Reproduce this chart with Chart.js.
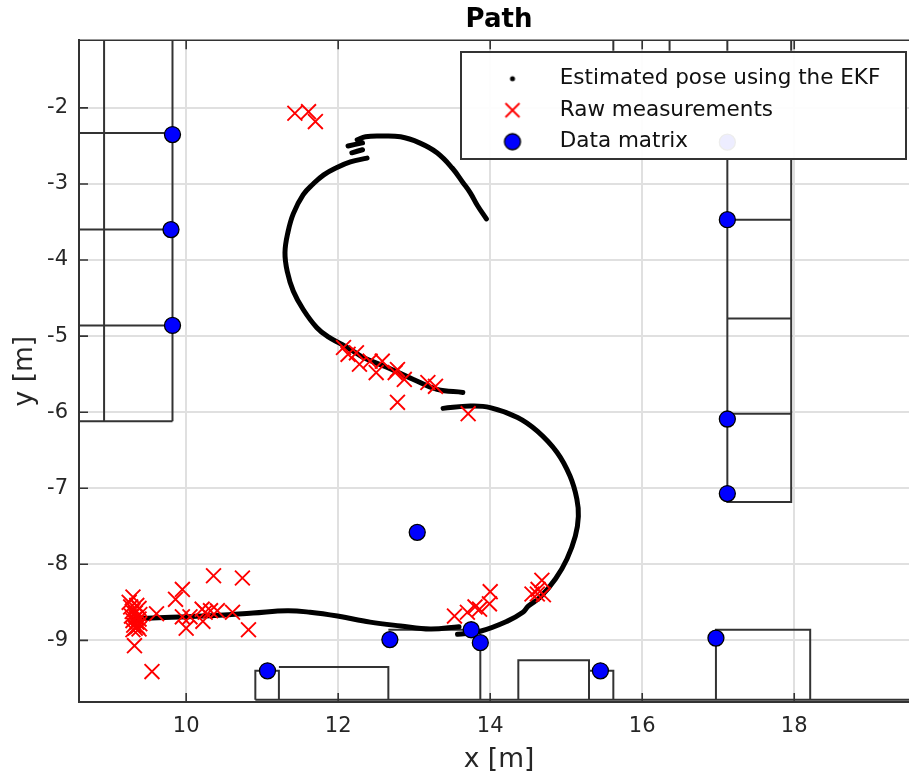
<!DOCTYPE html>
<html><head><meta charset="utf-8">
<style>html,body{margin:0;padding:0;background:#fff}canvas{display:block}</style>
<script src="https://cdn.jsdelivr.net/npm/chart.js"></script>
</head><body><canvas id="c" width="909" height="778"></canvas>
<script>
const xTicks = [10,12,14,16,18];
const yTicks = [-9,-8,-7,-6,-5,-4,-3,-2];
const pathX = [13.95,13.83,13.74,13.64,13.50,13.30,13.07,12.82,12.55,12.36,12.25,null,12.13,12.32,null,12.18,12.32,null,
 12.38,12.16,11.97,11.81,11.67,11.54,11.41,11.34,11.30,11.33,11.41,11.54,11.72,11.87,12.05,12.20,12.33,12.64,12.99,13.30,13.64,null,
 13.38,13.74,14.00,14.36,14.62,14.88,15.05,15.14,15.16,15.12,15.01,14.86,14.66,14.50,14.43,14.22,13.87,13.57,null,
 13.59,13.21,12.82,12.42,11.99,11.63,11.33,10.88,10.22,9.49,9.32];
const pathY = [-3.46,-3.28,-3.12,-2.98,-2.79,-2.59,-2.46,-2.38,-2.37,-2.38,-2.42,null,-2.50,-2.46,null,-2.59,-2.55,null,
 -2.66,-2.71,-2.79,-2.88,-3.00,-3.14,-3.39,-3.63,-3.90,-4.15,-4.41,-4.65,-4.89,-5.01,-5.11,-5.20,-5.28,-5.41,-5.57,-5.70,-5.74,null,
 -5.95,-5.92,-5.94,-6.07,-6.25,-6.53,-6.84,-7.14,-7.37,-7.63,-7.93,-8.19,-8.43,-8.55,-8.63,-8.75,-8.88,-8.92,null,
 -8.82,-8.85,-8.81,-8.76,-8.68,-8.63,-8.61,-8.64,-8.68,-8.71,-8.72];
const rawX = [11.43,11.61,11.70,12.07,12.13,12.24,12.28,12.42,12.50,12.58,12.78,12.75,12.87,13.18,13.28,12.78,13.71,
 10.36,10.74,9.95,9.86,9.30,9.25,9.61,9.95,10.00,10.05,10.21,10.25,10.22,10.32,10.41,10.61,10.82,9.32,9.55,
 9.27,9.35,9.38,9.29,9.33,9.39,9.28,9.34,9.38,9.30,9.35,9.39,9.31,9.36,9.33,9.38,9.30,
 13.53,13.70,13.80,13.86,13.99,14.00,14.55,14.62,14.70,14.68,14.63];
const rawY = [-2.07,-2.05,-2.18,-5.15,-5.24,-5.22,-5.37,-5.33,-5.48,-5.33,-5.44,-5.48,-5.57,-5.61,-5.66,-5.87,-6.02,
 -8.15,-8.18,-8.33,-8.46,-8.43,-8.50,-8.65,-8.69,-8.84,-8.69,-8.59,-8.63,-8.75,-8.61,-8.61,-8.63,-8.86,-9.07,-9.41,
 -8.56,-8.54,-8.58,-8.62,-8.64,-8.66,-8.68,-8.70,-8.72,-8.74,-8.76,-8.78,-8.80,-8.82,-8.84,-8.85,-8.86,
 -8.68,-8.63,-8.56,-8.59,-8.52,-8.36,-8.39,-8.39,-8.40,-8.21,-8.33];
const matrixX = [9.82,9.80,9.82,17.12,17.12,17.12,17.12,13.04,11.07,12.68,13.75,13.87,15.45,16.97];
const matrixY = [-2.35,-3.60,-4.86,-2.45,-3.47,-6.09,-7.07,-7.58,-9.40,-8.99,-8.86,-9.03,-9.40,-8.97];
const wallX = [8.92,8.92,null,9.82,9.82,null,8.59,9.82,null,8.59,9.82,null,8.59,9.82,null,8.59,9.82,null,
 15.62,15.62,null,16.36,16.36,null,17.12,17.12,null,17.96,17.96,null,17.12,17.12,17.96,17.96,null,17.12,17.96,null,17.12,17.96,null,17.12,17.96,null,
 10.91,19.51,null,10.91,10.91,11.22,11.22,null,11.22,12.66,12.66,null,12.66,13.75,null,13.87,13.87,null,
 14.37,14.37,15.30,15.30,null,15.30,15.62,15.62,null,16.97,16.97,18.21,18.21];
const wallY = [-1.11,-6.12,null,-1.11,-6.12,null,-6.12,-6.12,null,-2.33,-2.33,null,-3.60,-3.60,null,-4.86,-4.86,null,
 -1.11,-1.25,null,-1.11,-1.25,null,-1.11,-1.25,null,-1.11,-1.25,null,-2.68,-7.18,-7.18,-2.68,null,-3.47,-3.47,null,-4.77,-4.77,null,-6.02,-6.02,null,
 -9.78,-9.78,null,-9.78,-9.40,-9.40,-9.78,null,-9.35,-9.35,-9.78,null,-8.86,-8.86,null,-9.03,-9.78,null,
 -9.78,-9.26,-9.26,-9.78,null,-9.40,-9.40,-9.78,null,-9.78,-8.86,-8.86,-9.78];
const seriesLabels = ['Estimated pose using the EKF','Raw measurements','Data matrix'];
const titleText = 'Path', xTitle = 'x [m]', yTitle = 'y [m]';
const zip = (a,b) => a.map((v,i)=>({x:v,y:b[i]}));

function mark(kind){
  const c=document.createElement('canvas'); c.width=24; c.height=24;
  const g=c.getContext('2d');
  if(kind==='dot'){g.fillStyle='#000';g.beginPath();g.arc(12,12,2.5,0,7);g.fill();}
  if(kind==='x'){g.strokeStyle='#f00';g.lineWidth=1.8;g.beginPath();g.moveTo(5,5);g.lineTo(19,19);g.moveTo(19,5);g.lineTo(5,19);g.stroke();}
  if(kind==='o'){g.fillStyle='#00f';g.strokeStyle='#000';g.lineWidth=1.3;g.beginPath();g.arc(12,12,8,0,7);g.fill();g.stroke();}
  return c;
}
const legendMarks=[mark('dot'),mark('x'),mark('o')];
const frameColor='#333333', textColor='#262626';
const box={left:461,top:52,right:906,bottom:159};

const frame={id:'frame',
 afterLayout(ch){
  const l=ch.legend; l.left=466; l.right=906; l.top=58; l.bottom=170;
  ch.titleBlock.left+=10;
  const s=ch.scales.x;
  if(!s.shifted){
    s.shifted=true;
    const o=s.drawTitle;
    s.drawTitle=function(){this.ctx.save();this.ctx.translate(5,0);o.call(this);this.ctx.restore();};
  }
 },
 afterDatasetsDraw(ch){
  const g=ch.ctx,a=ch.chartArea,xs=ch.scales.x,ys=ch.scales.y,t=9;
  g.save(); g.strokeStyle=frameColor; g.lineWidth=1.6; g.beginPath();
  xTicks.forEach(v=>{const p=xs.getPixelForValue(v);g.moveTo(p,a.bottom);g.lineTo(p,a.bottom-t);g.moveTo(p,a.top);g.lineTo(p,a.top+t);});
  yTicks.forEach(v=>{const p=ys.getPixelForValue(v);g.moveTo(a.left,p);g.lineTo(a.left+t,p);});
  g.moveTo(a.left,a.top);g.lineTo(a.right,a.top);
  g.stroke();
  g.fillStyle='rgba(255,255,255,0.93)';
  g.fillRect(box.left,box.top,box.right-box.left,box.bottom-box.top);
  g.lineWidth=2; g.strokeStyle=frameColor;
  g.strokeRect(box.left,box.top,box.right-box.left,box.bottom-box.top);
  g.restore();
  ch.legend.draw();
 }};

new Chart(document.getElementById('c'),{
 type:'scatter',
 data:{datasets:[
  {label:seriesLabels[2],data:zip(matrixX,matrixY),order:0,pointRadius:8,pointBackgroundColor:'#0000ff',pointBorderColor:'#000',pointBorderWidth:1.3,showLine:false},
  {label:seriesLabels[1],data:zip(rawX,rawY),order:1,pointStyle:'crossRot',pointRadius:10.5,pointBorderColor:'#ff0000',pointBorderWidth:1.9,showLine:false},
  {label:seriesLabels[0],data:zip(pathX,pathY),order:2,showLine:true,spanGaps:false,pointRadius:0,borderColor:'#000',borderWidth:5,tension:0.4,borderCapStyle:'round',borderJoinStyle:'round'},
  {label:'walls',data:zip(wallX,wallY),order:3,showLine:true,spanGaps:false,pointRadius:0,borderColor:frameColor,borderWidth:2,tension:0}
 ]},
 options:{
  responsive:false,animation:false,
  layout:{padding:0,autoPadding:false},
  plugins:{
   tooltip:{enabled:false},
   title:{display:true,fullSize:false,text:titleText,color:'#000',font:{family:'DejaVu Sans',size:26,weight:'bold'},padding:{top:5,bottom:4}},
   legend:{display:true,position:'chartArea',align:'start',
    labels:{usePointStyle:true,pointStyleWidth:73,padding:10,color:'#111',font:{family:'DejaVu Sans',size:21.5},
     generateLabels:()=>seriesLabels.map((t,i)=>({text:t,pointStyle:legendMarks[i],datasetIndex:2-i,hidden:false,lineWidth:0,fontColor:'#111'}))}}
  },
  scales:{
   x:{type:'linear',min:8.59,max:19.51,
    afterFit:s=>{s.height=76;},
    afterBuildTicks:s=>{s.ticks=xTicks.map(v=>({value:v}));},
    title:{display:true,text:xTitle,color:textColor,font:{family:'DejaVu Sans',size:26.5},padding:{top:0,bottom:2}},
    ticks:{color:textColor,font:{family:'DejaVu Sans',size:21},padding:12,maxRotation:0,autoSkip:false},
    grid:{color:'#e0e0e0',lineWidth:2,drawTicks:false},
    border:{color:frameColor,width:2}},
   y:{type:'linear',min:-9.81,max:-1.11,
    afterFit:s=>{s.width=79;},
    afterBuildTicks:s=>{s.ticks=yTicks.map(v=>({value:v}));},
    title:{display:true,text:yTitle,color:textColor,font:{family:'DejaVu Sans',size:26.5},padding:{top:9,bottom:0}},
    ticks:{color:textColor,font:{family:'DejaVu Sans',size:21},padding:11,autoSkip:false},
    grid:{color:'#e0e0e0',lineWidth:2,drawTicks:false},
    border:{color:frameColor,width:2}}
  }
 },
 plugins:[frame]
});
</script></body></html>
